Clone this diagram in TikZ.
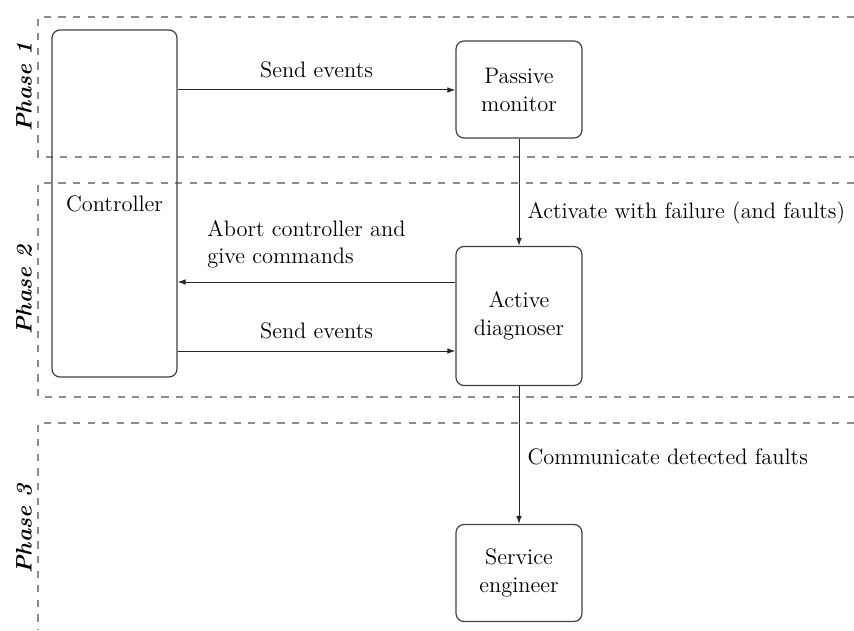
\documentclass[tikz,border=0pt]{standalone}
\usetikzlibrary{arrows.meta}

\tikzset{
  block/.style={draw=black!75, line width=0.6pt, rounded corners=4pt,
    minimum width=63pt, inner sep=0pt, align=center,
    font=\fontsize{11.2}{14}\selectfont},
  flow/.style={draw=black!85, line width=0.5pt, -{Latex[length=4pt,width=2.8pt]}},
  lbl/.style={font=\fontsize{11.2}{13.5}\selectfont, inner sep=0pt},
  phase/.style={draw=black!45, line width=1pt, dash pattern=on 3.6pt off 3.7pt},
  phaselbl/.style={rotate=90, font=\fontsize{11.2}{14}\selectfont\bfseries\itshape, inner sep=0pt}
}

\begin{document}
\begin{tikzpicture}[x=0.5pt, y=-0.5pt]
  \useasboundingbox (0,0) rectangle (854,630);

  % phase frames, open towards the right edge
  \draw[phase] (854,17) -- (38,17) -- (38,157) -- (854,157);
  \draw[phase] (854,183) -- (38,183) -- (38,397) -- (854,397);
  \draw[phase] (854,423) -- (38,423) -- (38,630);

  \node[phaselbl] (p1) at (24,87) {Phase 1};
  \node[phaselbl] (p2) at (24,290) {Phase 2};
  \node[phaselbl] (p3) at (24,529) {Phase 3};

  % components
  \node[block, minimum width=62.5pt, minimum height=173.5pt] (ctrl) at (114.5,203.5) {Controller};
  \node[block, minimum height=48.5pt] (pm) at (519,89.5) {Passive\\monitor};
  \node[block, minimum height=69.5pt] (ad) at (519,316) {Active\\diagnoser};
  \node[block, minimum height=48.5pt] (se) at (519,573) {Service\\engineer};

  % messages
  \draw[flow] (ctrl.east |- 0,90) -- (pm.west |- 0,90)
    node[lbl, midway, above=6pt] (l1) {Send events};
  \draw[flow] (pm.south) -- (ad.north)
    node[lbl, pos=0.69, right=4pt] (l2) {Activate with failure (and faults)};
  \draw[flow] (ad.west |- 0,282) -- (ctrl.east |- 0,282);
  \node[lbl, align=left, anchor=north west] (l3) at (207,220) {Abort controller and\\give commands};
  \draw[flow] (ctrl.east |- 0,351) -- (ad.west |- 0,351)
    node[lbl, midway, above=6pt] (l4) {Send events};
  \draw[flow] (ad.south) -- (se.north)
    node[lbl, pos=0.51, right=4pt] (l5) {Communicate detected faults};
\end{tikzpicture}
\end{document}
